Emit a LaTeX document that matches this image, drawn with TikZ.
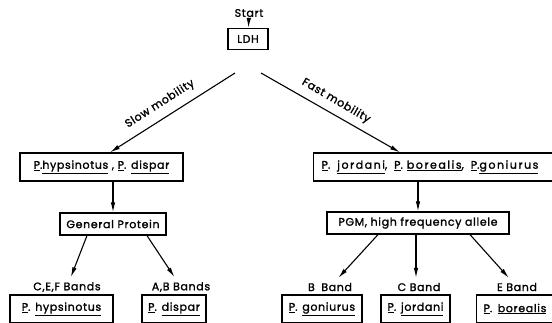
\documentclass[tikz,border=0pt]{standalone}
\usepackage{fontspec}
\setmainfont{Poppins}[LetterSpace=6, FakeBold=1.5]
\usetikzlibrary{arrows.meta}
\begin{document}
\begin{tikzpicture}[x=1pt,y=-1pt,
  txt/.style={font=\fontsize{11}{13}\selectfont},
  box/.style={txt, draw, line width=1.2pt, inner sep=0pt},
  lbl/.style={txt, inner sep=0pt, outer sep=5pt},
  arr/.style={line width=1.1pt, -{Latex[length=10pt,width=4.5pt]}}
]
\path[use as bounding box, clip] (0,0) rectangle (552,322);

% top
\node[lbl, outer sep=2pt] (start) at (249,13) {Start};
\node[box, minimum width=40, minimum height=21] (ldh) at (248,39) {LDH};
\draw[arr] (start) -- (ldh);

\coordinate (sL) at (235,73);
\coordinate (sR) at (261,73);

% middle row
\node[box, minimum width=163, minimum height=28] (midL) at (101.5,167)
  {\underline{P}.\underline{hypsinotus} , \underline{P}. \underline{dispar}};
\node[box, anchor=west, minimum height=28, text width=237pt, align=left, inner xsep=8pt] (midR) at (313,167)
  {\addfontfeature{LetterSpace=14}\underline{P}.\hspace{7pt}\underline{jordani},\hspace{7pt}\underline{P}.\hspace{4pt}\underline{borealis},\hspace{7pt}\underline{P}.\underline{goniurus}};

\draw[arr] (sL) -- ([xshift=8.5]midL.north);
\draw[arr] (sR) -- ([xshift=-40]midR.north);
\node[txt, rotate=32.6] (slowlbl) at (160,104) {Slow mobility};
\node[txt, rotate=-30.3] (fastlbl) at (336,101) {Fast mobility};

% second row
\node[box, minimum width=106, minimum height=22] (gp) at (113,224) {General Protein};
\node[box, minimum width=182, minimum height=22] (pgm) at (418,223) {PGM, high frequency allele};
\draw[arr] (midL.south -| gp.north) -- (gp.north);
\draw[arr] (midR.south -| pgm.north) -- (pgm.north);

% band labels
\node[lbl] (cef) at (67,287) {C,E,F Bands};
\node[lbl] (ab) at (181,287) {A,B Bands};
\node[lbl] (bb) at (330,287) {B\hspace{3pt} Band};
\node[lbl] (cb) at (419,287) {C Band};
\node[lbl] (eb) at (517,287) {E Band};

\draw[arr] ([xshift=-26]gp.south) -- (cef);
\draw[arr] ([xshift=34]gp.south) -- (ab);
\draw[arr] ([xshift=-40]pgm.south) -- (bb);
\draw[arr] ([xshift=-2]pgm.south) -- ([xshift=-2]pgm.south |- cb.north);
\draw[arr] ([xshift=52]pgm.south) -- (eb);

% bottom boxes
\node[box, minimum width=103, minimum height=28] (hyp) at (61.5,309) {\underline{P}. \underline{hypsinotus}};
\node[box, minimum width=64, minimum height=28] (dis) at (174,309) {\underline{P}. \underline{dispar}};
\node[box, minimum width=80, minimum height=28] (gon) at (322,309) {\underline{P}. \underline{goniurus}};
\node[box, minimum width=69, minimum height=28] (jor) at (415.5,309) {\underline{P}. \underline{jordani}};
\node[box, anchor=west, minimum height=28, text width=70pt, align=left, inner xsep=7pt] (bor) at (476,309) {\underline{P}. \underline{borealis}};
\end{tikzpicture}
\end{document}
